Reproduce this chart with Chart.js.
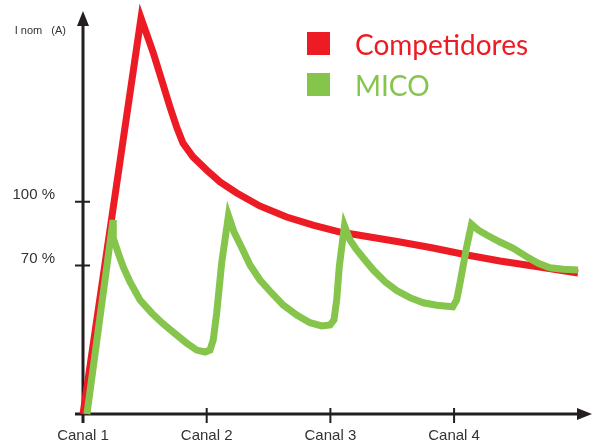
<!DOCTYPE html>
<html>
<head>
<meta charset="utf-8">
<script src="https://cdn.jsdelivr.net/npm/chart.js@4"></script>
<style>
  html, body { margin: 0; padding: 0; background: #fff; }
  #wrap { width: 600px; height: 443px; }
</style>
</head>
<body>
<div id="wrap"><canvas id="currentChart" width="600" height="443"></canvas></div>
<script>
// x in channel units (Canal 1 = 1), y in % of nominal current
const canalValues = [1, 2, 3, 4];
const canalLabels = ['Canal 1', 'Canal 2', 'Canal 3', 'Canal 4'];
const yTickValues = [70, 100];
const yTickLabels = ['70 %', '100 %'];
const yAxisTitle = 'I nom   (A)';

const competidoresX = [1, 1.469, 1.566, 1.636, 1.703, 1.757, 1.808, 1.889, 2.000, 2.108, 2.243, 2.429, 2.646, 2.860, 3.078, 3.320, 3.563, 3.830, 4.104, 4.371, 4.638, 5.002];
const competidoresY = [0, 186.5, 170.5, 157.3, 144.6, 135.2, 127.6, 121.1, 114.9, 109.3, 104.1, 98.0, 92.8, 89.0, 85.7, 83.4, 81.0, 78.2, 74.9, 72.1, 69.7, 66.4];

const micoX = [1.032, 1.243, 1.245, 1.285, 1.326, 1.380, 1.461, 1.555, 1.649, 1.757, 1.838, 1.919, 1.987, 2.027, 2.053, 2.081, 2.121, 2.176,
    2.221, 2.269, 2.350, 2.431, 2.525, 2.619, 2.728, 2.835, 2.930, 2.997, 3.029, 3.051, 3.072, 3.114,
    3.158, 3.207, 3.266, 3.347, 3.441, 3.536, 3.643, 3.751, 3.859, 3.989, 4.021, 4.048, 4.102, 4.141,
    4.194, 4.264, 4.371, 4.479, 4.587, 4.681, 4.775, 4.883, 5.002];
const micoY = [0, 91.4, 82.9, 75.8, 69.2, 62.2, 53.7, 47.6, 42.4, 37.2, 33.4, 30.1, 29.2, 30.1, 34.9, 47.6, 71.1, 93.5,
    85.7, 80.1, 70.2, 63.1, 57.0, 51.3, 46.6, 43.0, 41.5, 41.9, 44.3, 53.7, 69.4, 88.7,
    82.0, 77.7, 73.5, 67.8, 62.3, 58.1, 54.8, 52.4, 51.2, 50.5, 53.7, 61.7, 78.8, 89.4,
    86.7, 84.3, 81.0, 78.0, 74.1, 71.0, 68.9, 68.2, 67.8];

const RED = '#ed1c24';
const GREEN = '#86c54b';
const AXIS = '#231f20';

function toPoints(xs, ys) {
    return xs.map((x, i) => ({ x: x, y: ys[i] }));
}

// axis lines with arrows and tick marks, drawn under the curves
const axesPlugin = {
    id: 'axesPlugin',
    beforeDatasetsDraw(chart) {
        const ctx = chart.ctx;
        const xs = chart.scales.x, ys = chart.scales.y;
        const x0 = xs.getPixelForValue(1);
        const y0 = ys.getPixelForValue(0);
        const right = chart.chartArea.right;
        const top = 11;
        ctx.save();
        ctx.strokeStyle = AXIS;
        ctx.fillStyle = AXIS;
        ctx.lineWidth = 3;
        ctx.beginPath();
        ctx.moveTo(x0, y0 + 9);
        ctx.lineTo(x0, top + 12);
        ctx.moveTo(x0 - 8, y0);
        ctx.lineTo(right - 12, y0);
        ctx.stroke();
        // arrow heads
        ctx.beginPath();
        ctx.moveTo(x0, top);
        ctx.lineTo(x0 - 6, top + 15);
        ctx.lineTo(x0 + 6, top + 15);
        ctx.closePath();
        ctx.fill();
        ctx.beginPath();
        ctx.moveTo(right, y0);
        ctx.lineTo(right - 15, y0 - 6);
        ctx.lineTo(right - 15, y0 + 6);
        ctx.closePath();
        ctx.fill();
        // tick marks
        ctx.lineWidth = 2;
        ctx.beginPath();
        canalValues.forEach(v => {
            if (v === 1) return;
            const px = xs.getPixelForValue(v);
            ctx.moveTo(px, y0 - 6);
            ctx.lineTo(px, y0 + 9);
        });
        yTickValues.forEach(v => {
            const py = ys.getPixelForValue(v);
            ctx.moveTo(x0 - 8, py);
            ctx.lineTo(x0 + 7, py);
        });
        ctx.stroke();
        ctx.restore();
    },
    afterDraw(chart) {
        const ctx = chart.ctx;
        ctx.save();
        // y axis title
        ctx.fillStyle = '#333';
        ctx.font = '11px "Liberation Sans", Arial, sans-serif';
        ctx.textAlign = 'right';
        ctx.textBaseline = 'middle';
        ctx.fillText(yAxisTitle, 66, 31);
        // legend
        ctx.textAlign = 'left';
        ctx.textBaseline = 'alphabetic';
        ctx.font = '28px Lato, sans-serif';
        chart.data.datasets.forEach((ds, i) => {
            const top = 32 + i * 41;
            ctx.fillStyle = ds.borderColor;
            ctx.fillRect(307, top, 23, 23);
            ctx.fillText(ds.label, 355, top + 23);
        });
        ctx.restore();
    }
};

const ctx = document.getElementById('currentChart').getContext('2d');
new Chart(ctx, {
    type: 'line',
    data: {
        datasets: [{
            label: 'Competidores',
            data: toPoints(competidoresX, competidoresY),
            borderColor: RED,
            backgroundColor: RED,
            borderWidth: 7,
            borderJoinStyle: 'miter',
            pointRadius: 0,
            tension: 0,
            order: 1,
            clip: false
        }, {
            label: 'MICO',
            data: toPoints(micoX, micoY),
            borderColor: GREEN,
            backgroundColor: GREEN,
            borderWidth: 7,
            borderJoinStyle: 'miter',
            pointRadius: 0,
            tension: 0,
            order: 0,
            clip: false
        }]
    },
    options: {
        responsive: false,
        animation: false,
        layout: { padding: { left: 0, right: 8, top: 0, bottom: 0 } },
        plugins: {
            legend: { display: false },
            tooltip: { enabled: false }
        },
        scales: {
            x: {
                type: 'linear',
                min: 1,
                max: 5.115,
                afterBuildTicks: scale => { scale.ticks = canalValues.map(v => ({ value: v })); },
                afterFit: scale => {
                    scale.height = 29;
                    scale.paddingLeft = 0;
                    scale.paddingRight = 0;
                },
                grid: { display: false, drawTicks: false },
                border: { display: false },
                ticks: {
                    padding: 13,
                    autoSkip: false,
                    maxRotation: 0,
                    color: '#333',
                    font: { family: '"Liberation Sans", Arial, sans-serif', size: 15 },
                    callback: (v, i) => canalLabels[i]
                }
            },
            y: {
                type: 'linear',
                min: 0,
                max: 195,
                afterBuildTicks: scale => { scale.ticks = yTickValues.map(v => ({ value: v })); },
                afterFit: scale => {
                    scale.width = 83;
                    scale.paddingTop = 0;
                    scale.paddingBottom = 0;
                },
                grid: { display: false, drawTicks: false },
                border: { display: false },
                ticks: {
                    padding: 28,
                    labelOffset: -7,
                    color: '#333',
                    font: { family: '"Liberation Sans", Arial, sans-serif', size: 15 },
                    callback: (v, i) => yTickLabels[i]
                }
            }
        }
    },
    plugins: [axesPlugin]
});
</script>
</body>
</html>
